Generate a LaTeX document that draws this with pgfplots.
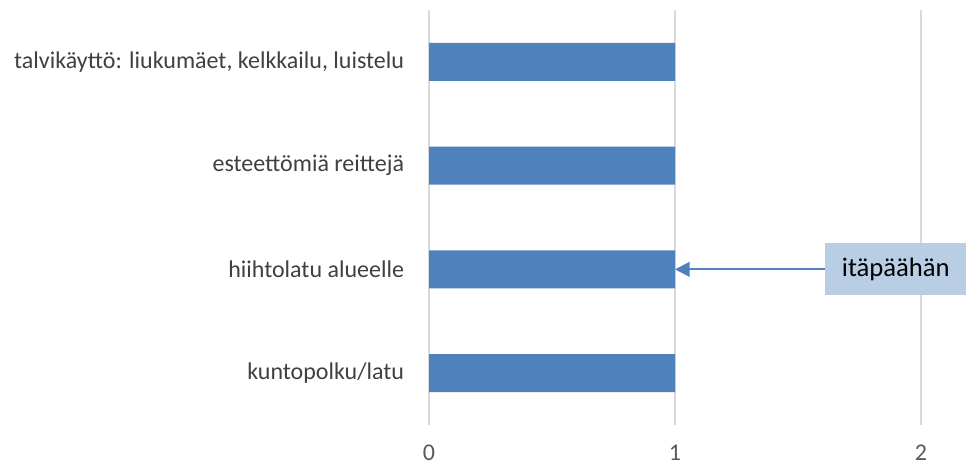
\documentclass[border=0pt]{standalone}
\usepackage{pgfplots}
\pgfplotsset{compat=1.18}
\usepackage{fontspec}
\setmainfont{Carlito}
\usetikzlibrary{arrows.meta}
\definecolor{barblue}{HTML}{4F81BD}
\definecolor{callout}{HTML}{B9CDE5}
\definecolor{gridgray}{HTML}{D9D9D9}
\definecolor{labelgray}{HTML}{404040}
\definecolor{tickgray}{HTML}{595959}
\begin{document}
\begin{tikzpicture}
\useasboundingbox (0,0) rectangle (724.5pt,349.5pt);
\begin{axis}[
  at={(321.75pt,30.75pt)}, anchor=south west,
  scale only axis, width=369pt, height=311.25pt,
  xbar, bar width=28.5pt,
  xmin=0, xmax=2, ymin=-0.5, ymax=3.5,
  xtick={0,1,2}, ytick={0,1,2,3},
  yticklabels={kuntopolku/latu, hiihtolatu alueelle, esteettömiä reittejä, {talvikäyttö: liukumäet, kelkkailu, luistelu}},
  axis line style={draw=none},
  major tick length=0pt,
  xmajorgrids, grid style={gridgray, line width=0.9pt},
  ymajorgrids=false,
  tick label style={font=\fontsize{18}{21}\selectfont},
  yticklabel style={color=labelgray, inner sep=0pt, xshift=-18.5pt},
  xticklabel style={color=tickgray, inner sep=0pt, yshift=-15pt},
  /pgf/number format/assume math mode=true,
  clip=false,
]
\addplot[fill=barblue, draw=none] coordinates {(1,0) (1,1) (1,2) (1,3)};
\draw[-{Triangle[width=11pt,length=11pt]}, barblue, line width=1.6pt] (axis cs:1.61,1) -- (axis cs:1,1);
\node[fill=callout, anchor=west, inner sep=0pt, minimum width=105.75pt, minimum height=39pt, font=\fontsize{20}{24}\selectfont] at (axis cs:1.61,1) {itäpäähän};
\end{axis}
\end{tikzpicture}
\end{document}
